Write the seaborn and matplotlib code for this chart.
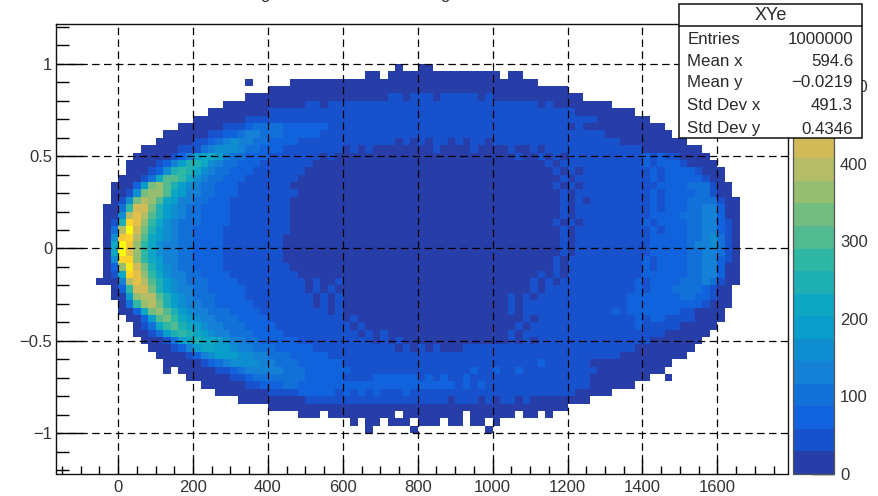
import numpy as np
import pandas as pd
import seaborn as sns
import matplotlib.pyplot as plt
from matplotlib.colors import LinearSegmentedColormap, ListedColormap
from matplotlib.patches import Rectangle

# histogram bins: 20 wide in x, 0.04 high in y
x_first = -60
x_step = 20
y_first = 1.0
y_step = 0.04
n_cols = 87

# first filled bin of every row, top row first
row_starts = [40, 35, 20, 23, 20, 17, 15, 13, 11, 9, 8, 6, 5, 4, 4, 3, 2, 2, 2, 1, 1, 1, 1, 1, 1,
              1, 1, 1, 1, 0, 2, 2, 3, 3, 4, 5, 5, 6, 7, 8, 9, 9, 12, 14, 16, 19, 23, 27, 34, 36]

row_counts = [
    [2,0,0,3,3],
    [0,3,5,0,6,8,9,7,8,10, 9,8,10,9,7,8,6,7,5,0, 4,3],
    [3,0,0,0,0,0, 4,6,8,9,11,12,13,14,14,15, 16,15,17,16,17,18,17,18,17,16, 17,16,15,15,14,13,12,11,10,9, 7,5,4],
    [3,6,9,12,14,15,16,18,18,19, 20,21,20,22,22,21,23,22,22,23, 22,21,22,21,22,21,20,20,19,19, 18,17,16,15,14,13,11,9,7,4],
    [4,8,11,13,15,16,18,19,20,21, 22,23,24,25,25,26,27,28, 28,30,31,28,30,32,31,29,33,30,31,30,32,29,30, 28,27,26,25,24,23,21,19,17,14,10,6],
    [5,9,12,14,16,18,20,22,24,26, 28,31,30,29,33,31,30,34,32,30, 33,35,31,32,34,36,33,32,35,33, 34,32,36,33,31,34,32,33,30,32, 31,30,29,31, 27,26,24,22,20,17,13,8],
    [5,10,14,17,20,23,25,27, 31,33,36,38,37,40,39,41,38,42, 40,43,39,41,38,42,44,40,39,43, 41,40,45,42,39,41,38,43,40,39, 41,37,40,38,36,39,35,37,34,32, 31, 28,26,24,21,18,15,11,6],
    [6,11,15,19,22,25,28, 33,38,42,46,48,50,49,52,51,53, 50,52,48,51,47,50,46,49,45,48, 52,47,50,44,48,46,51,45,48,43, 46,50,44,47,42,45,48,43,46,41, 44,40,43,38,41,36,33, 28,25,22,19,15,11,6],
    [6,12,17,21,25,28, 30,38,58,78,92,100,98,90,82,74, 68,62,60,62,56,57,54,52,55,50, 52,48,54,49,50,46,52,45,49,50, 46,43,47,45,48,42,46,44,47,41, 45,43,40,36,34,31,29,30,28,27, 26,27, 28,25,22,19,15,11,6],
    [7,13,18,22,26,29, 34,44,62,84,104,118,122,115,100,88, 76,68,66,60,62,58,56,52,48,50, 46,44,48,42,45,40,44,38,42,36, 40,43,36,40,34,38,42,35,39,44, 37,41,45,38,42,46,40,43,41,38, 33,36,31,28,27,26,25, 27,23,18,13,7],
    [8,15,21,26,29, 30,40,70,110,145,155,145,125,105,92, 82,74,68,64,58,54,48,46,42,40, 38,36,34,32,35,30,33,28,32,27, 31,26,30,33,27,31,25,30,34,28, 32,36,30,33,37,31,35,39,33,36, 41,45,40,48,42,38,30,27,26,25, 24, 27,23,18,13,6],
    [6,14,20,25,29, 30,36,58,95,135,165,170,150,125,105, 90,78,70,62,56,50,46,42,38,35, 32,34,29,31,27,30,26,28,24,29, 25,27,23,26,30,24,27,22,26,30, 25,28,24,27,31,26,29,33,27,31, 34,38,32,40,36,44,48,42,50,46, 40,30,27,26,25, 27,23,18,13,6],
    [7,15,22,28, 29,34,70,125,175,210,205,175,140,115, 96,84,74,66,58,52,46,42,38,34, 31,28,30,26,28,24,26,23,27,22, 25,28,23,26,21,24,27,22,25,20, 23,26,22,25,28,23,26,30,25,27, 31,26,33,29,36,32,40,36,46,42, 50,46,56,52,60,56,62,50,34,27, 24,15,6],
    [8,18,27, 24,30,60,120,200,245,240,205,165,135, 110,95,82,72,64,56,50,45,40,36, 33,30,28,26,28,24,27,23,26,22, 25,21,26,23,20,24,22,27,21,24, 20,23,26,21,24,28,23,26,22,25, 29,27,24,31,28,34,30,38,33,42, 38,46,42,52,58,50,62,58,68,62, 70,50,28, 26,18,8],
    [12,24, 22,30,65,150,245,275,260,215,170,135, 112,96,84,74,66,58,52,47,42,38, 34,31,29,27,25,27,24,26,23,25, 22,25,21,24,20,23,21,22,19,22, 25,21,24,20,23,26,21,24,22,25, 23,27,22,28,25,30,27,33,29,36, 33,40,36,46,42,52,47,57,62,58, 70,76,72,60,36, 26,18,7],
    [10,22, 24,32,90,210,300,305,265,215,170,135, 112,96,84,74,66,58,52,47,42,38, 35,32,29,27,25,27,24,26,23,25, 22,24,21,23,19,22,20,22,18,21, 24,20,23,19,22,25,20,23,21,24, 22,26,21,24,23,28,25,30,27,33, 30,36,33,42,38,47,43,54,50,62, 56,68,76,82,86,66,36, 24,10],
    [5,14, 24,60,200,335,350,300,240,190,150,122, 102,88,78,70,62,56,50,45,41,37, 34,31,28,26,24,26,23,25,22,24, 21,23,20,22,19,22,24,20,23,19, 22,25,20,23,21,24,22,26,23,21, 24,22,26,23,28,25,24,30,26,33, 29,36,32,40,36,45,41,52,48,57, 53,64,60,70,80,88,96,90,48, 26,10],
    [8,18, 36,150,320,375,360,295,230,180,145,120, 102,90,80,72,65,58,52,47,43,39, 36,33,30,28,26,28,24,26,23,25, 21,24,22,20,23,21,24,19,22,21, 23,20,24,22,20,24,21,25,22,20, 24,22,26,24,27,25,29,26,31,28, 34,30,37,34,42,38,48,44,54,50, 60,56,66,62,72,86,98,104,54, 24,9],
    [16, 30,160,340,395,375,300,230,180,145,120, 103,90,80,72,65,58,53,48,44,40, 37,34,31,29,27,29,26,27,24,26, 22,25,23,21,24,22,20,24,21,22, 19,23,20,18,22,19,24,21,18,22, 20,24,21,26,22,25,23,27,24,30, 26,33,29,36,33,41,37,47,43,52, 48,60,56,66,62,78,88,104,114,112,54, 26,8],
    [5,20, 90,290,430,420,340,260,200,160,132,112, 98,86,77,70,63,57,52,47,43,39, 36,33,31,29,27,25,27,24,26,28, 24,26,22,24,21,23,20,22,19,21, 20,18,22,19,21,23,19,22,20,24, 21,23,20,25,22,26,24,28,25,31, 27,34,30,38,34,43,39,50,46,56, 52,62,58,72,68,84,96,110,122,128,66, 28,9],
    [9,24, 170,390,460,400,310,235,185,150,125,107, 94,84,75,68,62,56,51,47,43,39, 36,33,31,29,27,25,27,24,26,28, 23,26,22,24,20,23,20,22,19,21, 18,21,23,19,22,18,21,23,19,22, 20,24,21,26,23,27,24,29,26,32, 28,35,32,40,36,45,41,52,48,58, 54,64,60,76,70,88,102,116,130,138,74, 28,10],
    [12,38, 260,510,450,360,275,210,165,138,116,100, 88,79,71,65,59,54,49,45,41,38, 35,32,30,28,26,25,27,23,26,28, 23,25,22,24,21,23,20,22,19,21, 18,21,19,22,18,20,23,19,21,18, 22,20,24,21,24,22,27,24,30,27, 32,29,37,33,41,37,46,43,54,49, 60,56,66,62,78,72,92,106,122,140,82, 30,12],
    [16,90, 390,570,420,320,245,190,152,128,110,96, 85,76,69,63,57,52,48,44,40,37, 34,32,30,28,26,24,26,28,24,26, 22,25,21,24,20,23,19,22,18,21, 18,20,22,17,21,19,22,18,20,23, 19,22,20,24,22,25,23,27,24,30, 27,33,30,38,34,42,38,47,44,54, 50,62,58,68,64,80,94,110,126,142,84, 30,12],
    [18,150, 490,520,390,300,230,180,146,124,107,94, 83,75,68,62,56,51,47,43,40,37, 34,31,29,27,25,24,26,28,23,25, 22,25,21,24,20,23,19,22,18,21, 18,20,22,17,20,23,18,21,19,22, 20,23,19,24,21,25,23,28,24,30, 27,34,30,38,35,43,39,48,45,56, 52,64,60,70,82,76,98,114,132,146,90, 32,13],
    [20,210, 560,470,365,280,218,172,140,120,104,92, 81,73,66,60,55,50,46,42,39,36, 33,31,28,27,25,24,26,28,23,25, 22,25,21,24,20,23,19,22,18,21, 19,22,17,20,23,18,21,19,22,20, 24,21,19,25,22,26,24,29,25,31, 28,35,31,39,36,45,40,50,47,58, 54,65,61,74,69,86,102,118,136,148,94, 34,14],
    [20,220, 555,460,360,275,215,170,138,118,102,90, 80,72,65,59,54,49,45,41,38,35, 32,30,28,26,25,24,26,27,23,25, 22,25,21,24,20,23,19,22,18,21, 18,21,23,18,20,22,19,21,18,22, 20,23,20,25,22,26,24,28,25,31, 28,34,31,39,36,44,40,50,47,57, 53,65,60,72,68,84,100,116,134,144,92, 33,14],
    [16,160, 520,495,375,290,222,175,143,122,105,92, 82,74,67,61,56,51,47,43,40,37, 34,31,29,27,26,24,26,28,23,25, 22,25,21,24,20,23,19,22,18,21, 20,18,22,19,21,18,23,20,22,19, 24,21,25,22,26,24,28,25,31,27, 34,30,38,34,42,38,48,44,54,50, 60,56,66,62,78,72,92,108,124,138,84, 30,12],
    [10,60, 370,535,430,330,250,192,155,130,112,98, 87,78,70,64,58,53,49,45,42,39, 36,33,31,29,27,25,27,24,26,28, 24,27,22,25,21,23,20,22,19,22, 20,18,22,20,23,18,21,24,20,22, 25,21,24,22,27,24,29,26,31,28, 34,31,38,35,43,40,49,45,55,52, 62,58,70,66,80,76,94,110,122,132,72, 28,10],
    [7,30, 230,500,450,360,275,210,168,140,120,104, 92,82,74,67,61,56,51,47,44,41, 38,35,32,30,28,26,29,25,27,29, 25,28,23,26,22,24,21,23,20,22, 19,22,20,23,18,22,24,20,23,21, 26,22,25,23,28,25,30,27,32,29, 36,32,40,36,46,42,52,48,58,54, 64,60,72,68,84,78,98,112,122,126,64, 26,9],
    [3,6,24, 140,390,455,400,310,240,190,155,132,114, 100,90,81,74,67,61,56,52,47,44, 41,38,35,32,30,28,31,26,29,31, 26,29,24,27,23,25,21,24,20,22, 19,23,20,18,22,24,20,23,21,25, 22,26,23,28,25,30,27,33,29,35, 31,39,35,43,39,48,44,54,50,60, 56,66,62,78,72,90,102,112,118,104,52, 24,8],
    [18, 80,290,425,415,335,255,200,165,140,120, 106,95,85,78,71,65,59,54,50,46, 42,39,36,33,31,29,32,27,30,26, 29,24,27,23,26,22,24,21,23,20, 22,19,23,20,22,24,20,23,21,25, 22,27,24,29,26,31,28,34,30,37, 33,40,37,45,41,50,46,56,52,62, 58,70,66,80,88,94,100,104,86,46, 20,7],
    [8, 24,180,350,405,380,300,235,185,155,132, 115,102,92,83,75,69,63,58,53,49, 45,42,38,35,33,31,29,32,27,30, 25,28,24,26,22,25,21,24,20,23, 21,24,20,23,25,21,24,22,26,23, 28,25,30,27,32,29,35,31,38,34, 42,38,47,43,52,48,58,54,64,60, 70,66,76,84,80,90,94,86,60,30, 18,6],
    [14, 90,270,370,380,320,250,200,165,140,120, 105,94,85,77,71,65,59,54,50,46, 42,39,36,34,31,29,32,28,30,26, 29,24,27,23,26,22,24,21,23,20, 24,21,23,25,21,24,22,27,24,29, 26,31,28,33,30,36,32,39,35,43, 39,48,44,53,49,58,55,64,60,70, 66,74,80,76,84,80,62,40,26, 15,5],
    [4,20, 60,220,345,355,305,245,200,168,145,125, 110,98,88,80,73,66,60,55,51,47, 43,40,37,34,32,30,28,31,26,29, 24,27,23,25,21,24,20,23,21,25, 22,24,26,22,25,23,27,24,29,26, 31,28,33,30,36,32,40,36,44,40, 49,45,54,50,60,56,64,60,68, 72,68,76,66,48,30,26,23, 14,5],
    [9,24, 70,200,310,320,280,232,195,165,142,124, 110,98,88,80,73,66,60,55,51,47, 43,40,37,34,32,30,33,28,31,26, 29,24,27,23,25,22,24,21,23,20, 24,21,23,26,22,25,23,27,24,29, 26,31,28,33,30,37,33,40,36,44, 40,49,45,54,50,58,62,56,64,60, 52,56,42,30,25,22, 12,4],
    [14, 36,110,230,290,295,260,220,188,162,142, 126,112,100,90,82,75,68,62,57,52, 48,44,41,38,35,32,30,33,28,31, 26,29,24,27,23,25,21,24,22,25, 21,24,26,22,25,23,27,24,29,26, 31,28,33,30,36,32,39,35,43,39, 48,44,53,49,57,54,62,56,52,56, 42,33,27,23, 20,12,4],
    [6,18, 36,100,200,255,275,260,225,190,165,145, 128,114,102,92,84,76,70,64,58,53, 49,45,42,39,36,33,31,34,29,32, 27,30,25,28,24,26,22,25,23,26, 22,25,27,23,26,24,28,25,30,27, 33,30,36,32,39,35,42,38,46,42, 52,48,54,50,56,52,48,50,37,28, 25,23, 20,12,4],
    [8,16,24, 55,110,180,225,240,230,205,178,155,135, 120,107,96,87,79,72,66,60,55,51, 47,44,41,38,35,33,31,34,29,32, 27,30,25,28,24,26,23,25,22,26, 23,27,29,24,28,26,31,27,33,29, 36,32,39,35,42,38,45,41,48,43, 46,42,38,40,30,27,25,22,21, 18,10,4],
    [7,15,24, 36,85,145,190,215,215,200,178,158,140, 124,111,100,91,83,76,70,64,59,55, 51,47,44,41,38,36,33,36,31,34, 29,33,28,31,27,30,26,29,28,32, 30,35,37,32,36,33,38,35,40,37, 42,39,44,40,46,42,48,44,42,38, 34,36,28,26,25,23,22, 17,10,4],
    [7,14,20,26, 40,80,125,160,182,190,185,170,152,136, 122,110,100,91,83,76,70,65,60,56, 52,48,45,43,40,38,36,34,32,36, 34,38,35,40,36,42,38,44,40,45, 41,46,48,42,46,44,48,45,50,46, 46,42,48,44,40,42,37,32,29,27, 25,23,22,20, 16,10,4],
    [6,12,17,22,27, 36,66,100,130,150,160,162,152,138,125, 113,103,95,87,80,74,69,64,60,56, 53,50,47,45,43,45,42,48,44,50, 46,52,48,54,50,53,49,54,50,55, 51,56,52,58,54,60,48,52,42,46, 36,38,29,27,26,24,23,22,20,19, 15,9,4],
    [3,0, 6,12,17,22,27, 32,56,85,110,125,135,136,128,118,108, 100,92,86,80,74,70,66,62,58,55, 52,50,48,46,48,52,56,50,54,48, 52,56,58,54,60,52,58,62,54,56, 60,50,54,46,48,40,42,35,37,31, 33,28,27,26,24,23,21, 15,9,4],
    [5,10,14,18,22,27, 34,55,78,95,106,112,113,105,96,88, 82,76,70,66,62,58,56,54,58,60, 64,60,68,60,64,58,66,56,62,58, 54,60,52,57,50,55,48,52,46,50, 44,47,40,43,36,38,32,33,28,26, 25,23, 20,15,10,4, 0,0,3],
    [6,10,14,18,22,27, 34,50,66,78,86,88,90,86,84,80, 78,76,72,70,74,68,72,66,70,64, 68,72,65,69,62,66,60,64,58,62, 55,60,52,56,48,52,45,48,42,44, 38,40,34,35,30,31,28, 25,21,16,11,5],
    [5,9,13,17,20,24,27, 34,44,52,58,60,62,64,60,63,58, 62,56,60,55,59,54,58,53,61,56, 52,57,54,50,55,48,52,46,50,44, 48,42,45,40,42,38,40,35,36,32, 30, 26,22,17,11,5],
    [4,8,11,14,17,19,22,25,27, 30,33,36,34,38,35,37,33,36,32, 38,34,37,31,35,33,30,36,32,29, 34,31,33,29,31,28,30,32,29,30, 28, 26,24,22,19,15,10,5],
    [3,7,10,13,15,17,19,20,21,22, 23,24,23,25,24,25,24,26,25,24, 25,24,26,23,24,23,22,23,21,22, 20,19,18,16,15,13,11,8,5,3],
    [2,5,7,0,9,11,12,13,12,14, 13,15,14,0,15,14,16,15,14,13, 15,14,0,13,14,12,11,10,8,0, 6,3,0,3],
    [2,0,3,5,0,6,4,7,0,5, 8,6,0,7,5,0,6,4,0,2],
    [2,0,0,0,0,0,2,0,0,0, 0,0,0,0,0,0,2],
]

# ROOT's kBird palette, 20 contour levels
bird_rgb = [(0.2082, 0.1664, 0.5293), (0.0592, 0.3599, 0.8684), (0.0780, 0.5041, 0.8385),
            (0.0232, 0.6419, 0.7914), (0.1802, 0.7178, 0.6425), (0.5301, 0.7492, 0.4662),
            (0.8186, 0.7328, 0.3499), (0.9956, 0.7862, 0.1968), (0.9764, 0.9832, 0.0539)]
n_levels = 20
z_max = 581

x_major = [0, 200, 400, 600, 800, 1000, 1200, 1400, 1600]
x_minor = list(range(-150, 1800, 50))
y_major = [-1, -0.5, 0, 0.5, 1]
y_major_labels = ['\u22121', '\u22120.5', '0', '0.5', '1']
y_minor = [round(-1.2 + 0.1 * i, 1) for i in range(25)]
z_ticks = [0, 100, 200, 300, 400, 500]

stat_names = ['Entries', 'Mean x', 'Mean y', 'Std Dev x', 'Std Dev y']
stat_values = ['1000000', '594.6', '\u22120.0219', '491.3', '0.4346']

xlim = (-164.5, 1790)
ylim = (-1.219, 1.219)


def x_pos(x):
    return (np.asarray(x) - x_first) / x_step


def y_pos(y):
    return (y_first - np.asarray(y)) / y_step


sns.set_style('white')
plt.rcParams['font.family'] = ['Liberation Sans', 'DejaVu Sans']
plt.rcParams['text.color'] = '#2a2a2a'

grid = np.full((len(row_counts), n_cols), np.nan)
for i, row in enumerate(row_counts):
    grid[i, row_starts[i]:row_starts[i] + len(row)] = row
grid[grid == 0] = np.nan

df = pd.DataFrame(grid, index=y_first - y_step * (np.arange(len(row_counts)) + 0.5),
                  columns=x_first + x_step * (np.arange(n_cols) + 0.5))

base = LinearSegmentedColormap.from_list('bird', bird_rgb, N=255)
cmap = ListedColormap([base((i + 0.99) / n_levels) for i in range(n_levels)])

W, H = 879, 496
fig = plt.figure(figsize=(W / 100, H / 100), dpi=100)
ax = fig.add_axes([56.5 / W, 1 - 473.5 / H, 732 / W, 450 / H])
cax = fig.add_axes([793 / W, 1 - 473.5 / H, 41.5 / W, 450 / H])

sns.heatmap(df, ax=ax, cbar_ax=cax, cmap=cmap, vmin=0, vmax=z_max,
            xticklabels=False, yticklabels=False)

ax.set_xlim(x_pos(xlim[0]), x_pos(xlim[1]))
ax.set_ylim(y_pos(ylim[0]), y_pos(ylim[1]))
ax.set_xlabel('')
ax.set_ylabel('')

ax.set_xticks(x_pos(x_major))
ax.set_xticklabels([str(v) for v in x_major], fontsize=12, color='#333333')
ax.set_xticks(x_pos(x_minor), minor=True)
ax.set_yticks(y_pos(y_major))
ax.set_yticklabels(y_major_labels, fontsize=12, color='#333333', rotation=0)
ax.set_yticks(y_pos(y_minor), minor=True)

ax.tick_params(axis='x', which='major', direction='in', length=11, width=1, color='k', pad=5, bottom=True)
ax.tick_params(axis='x', which='minor', direction='in', length=5.5, width=1, color='k', bottom=True)
ax.tick_params(axis='y', which='major', direction='in', length=19.5, width=1, color='k', pad=3, left=True)
ax.tick_params(axis='y', which='minor', direction='in', length=9, width=1, color='k', left=True)

ax.grid(True, which='major', color='k', lw=0.9, ls=(0, (6, 3.5)))
ax.set_axisbelow(False)
for s in ax.spines.values():
    s.set_visible(True)
    s.set_color('#111111')
    s.set_linewidth(1.0)

cbar = ax.collections[0].colorbar
cbar.set_ticks(z_ticks)
cbar.ax.tick_params(axis='y', direction='in', length=16, width=1, color='k', labelsize=12,
                    labelcolor='#333333', pad=4, right=True)
cbar.outline.set_edgecolor('#555555')
cbar.outline.set_linewidth(0.9)

# stats box, it sits over the top of the palette like in ROOT
bx = fig.add_axes([0, 0, 1, 1], zorder=10)
bx.set_xlim(0, W)
bx.set_ylim(H, 0)
bx.axis('off')
bx.patch.set_alpha(0)
bx.add_patch(Rectangle((679.5, 4), 183, 134, facecolor='white', edgecolor='#111111', lw=1.1))
bx.plot([679.5, 862.5], [26, 26], color='#111111', lw=1.1)
bx.text(771, 15, 'XYe', ha='center', va='center', fontsize=13)
for name, val, y in zip(stat_names, stat_values, [39.5, 61.5, 82.5, 106, 129]):
    bx.text(687.5, y, name, ha='left', va='center', fontsize=12.2)
    bx.text(853, y, val, ha='right', va='center', fontsize=12.2)

# only the descenders of the title make it into the picture
for gx in [265, 445]:
    bx.text(gx, -0.5, 'g', ha='center', va='baseline', fontsize=12, clip_on=False)

fig.savefig('out.png', dpi=100)
